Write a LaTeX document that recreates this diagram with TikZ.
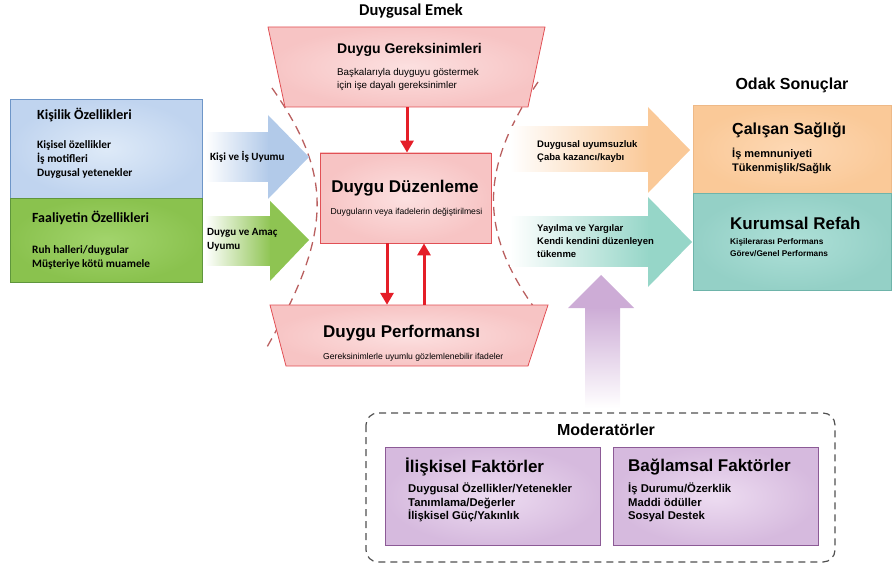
\documentclass[tikz,border=0pt]{standalone}
\usepackage{fontspec}
\setmainfont{Liberation Sans}
\newfontfamily\calibrifont{Carlito}
\usetikzlibrary{arrows.meta}
\definecolor{bluefill}{RGB}{192,212,239}
\definecolor{bluein}{RGB}{222,234,248}
\definecolor{blueborder}{RGB}{110,150,200}
\definecolor{greenfill}{RGB}{138,194,78}
\definecolor{greenin}{RGB}{162,212,108}
\definecolor{greenborder}{RGB}{95,150,60}
\definecolor{pinkfill}{RGB}{247,196,196}
\definecolor{pinkin}{RGB}{252,224,224}
\definecolor{pinkborder}{RGB}{225,80,85}
\definecolor{redarrow}{RGB}{228,30,40}
\definecolor{orangefill}{RGB}{250,201,152}
\definecolor{orangein}{RGB}{253,216,180}
\definecolor{orangeborder}{RGB}{238,185,135}
\definecolor{tealfill}{RGB}{148,208,198}
\definecolor{tealin}{RGB}{174,224,216}
\definecolor{tealborder}{RGB}{110,180,170}
\definecolor{purplefill}{RGB}{214,186,222}
\definecolor{purplein}{RGB}{237,220,241}
\definecolor{purpleborder}{RGB}{140,90,150}
\definecolor{purparrow}{RGB}{205,172,214}
\definecolor{bluearrow}{RGB}{178,202,233}
\definecolor{greenarrow}{RGB}{142,196,82}
\definecolor{orangearrow}{RGB}{250,201,152}
\definecolor{tealarrow}{RGB}{150,214,200}
\definecolor{dashred}{RGB}{185,95,95}
\definecolor{dashgray}{RGB}{80,80,80}
\begin{document}
\begin{tikzpicture}[x=1pt,y=-1pt,
  box/.style={inner sep=0pt, anchor=north west},
  ghost/.style={inner sep=0pt},
  redarr/.style={draw=redarrow, line width=3pt, -{Triangle[width=13pt,length=12pt]}},
  dashcurve/.style={draw=dashred, line width=1.3pt, dash pattern=on 9pt off 6pt},
  bigttl/.style={font=\bfseries\fontsize{17}{20}\selectfont, inner sep=0pt},
  midttl/.style={font=\bfseries\fontsize{14}{17}\selectfont, inner sep=0pt},
  caltl/.style={font=\calibrifont\bfseries\fontsize{14}{17}\selectfont, inner sep=0pt, anchor=west},
  calitem/.style={font=\calibrifont\bfseries\fontsize{11.3}{14}\selectfont, inner sep=0pt, anchor=west, align=left},
  smalltxt/.style={font=\fontsize{8.6}{10}\selectfont, inner sep=0pt},
  rlabel/.style={font=\bfseries\fontsize{9.5}{13}\selectfont, inner sep=0pt, anchor=west, align=left},
  item/.style={font=\bfseries\fontsize{11}{14}\selectfont, inner sep=0pt, anchor=west, align=left}
]
\useasboundingbox (0,0) rectangle (892,564);

% dashed curves
\draw[dashcurve] (272,88) .. controls (333,175) and (333,232) .. (267,347);
\draw[dashcurve] (538,82) .. controls (478,170) and (478,235) .. (542,318);

% left arrows
\shade[left color=white, right color=bluearrow] (205,133) rectangle (269,182);
\fill[bluearrow] (268,115) -- (309,157) -- (268,199) -- cycle;
\shade[left color=white, right color=greenarrow] (205,217) rectangle (271,266);
\fill[greenarrow] (270,201) -- (309,240) -- (270,281) -- cycle;

% right arrows
\shade[left color=white, right color=orangearrow] (510,127) rectangle (649,172);
\fill[orangearrow] (648,107) -- (690,150) -- (648,193) -- cycle;
\shade[left color=white, right color=tealarrow] (510,217) rectangle (649,267);
\fill[tealarrow] (648,197) -- (692,242) -- (648,287) -- cycle;

% purple arrow
\shade[top color=purparrow, bottom color=white] (585,307) rectangle (620,408);
\fill[purparrow] (568,308) -- (601,275) -- (634,308) -- cycle;

% left boxes
\node[box, draw=blueborder, inner color=bluein, outer color=bluefill, minimum width=192pt, minimum height=99pt] (kisilik) at (10,99) {};
\node[box, draw=greenborder, inner color=greenin, outer color=greenfill, minimum width=192pt, minimum height=84pt] (faaliyet) at (10,198) {};
\node[caltl] (kisilikt) at (37,115) {Kişilik Özellikleri};
\node[calitem] (kisilikl) at (37,159) {Kişisel özellikler\\İş motifleri\\Duygusal yetenekler};
\node[caltl] (faaliyett) at (32,218) {Faaliyetin Özellikleri};
\node[calitem] (faaliyetl) at (32,257) {Ruh halleri/duygular\\Müşteriye kötü muamele};
\node[calitem, font=\calibrifont\bfseries\fontsize{11}{14}\selectfont] (kisiis) at (210,157) {Kişi ve İş Uyumu};
\node[calitem, font=\calibrifont\bfseries\fontsize{11}{14}\selectfont] (duyguamac) at (207,240) {Duygu ve Amaç\\Uyumu};

% central pink shapes
\node[font=\calibrifont\bfseries\fontsize{16.5}{19}\selectfont, inner sep=0pt] (emek) at (411,11) {Duygusal Emek};
\shadedraw[inner color=pinkin, outer color=pinkfill, draw=pinkborder, line width=0.8pt] (268,27) -- (545,27) -- (528,107) -- (285,107) -- cycle;
\node[ghost, minimum width=243pt, minimum height=80pt] (gerek) at (407,67) {};
\node[midttl] (gerekt) at (409.5,50) {Duygu Gereksinimleri};
\node[font=\fontsize{9.8}{13}\selectfont, inner sep=0pt, anchor=west, align=left] (gerekl) at (337,79.5) {Başkalarıyla duyguyu göstermek\\için işe dayalı gereksinimler};

\node[draw=pinkborder, inner color=pinkin, outer color=pinkfill, line width=0.8pt, minimum width=171pt, minimum height=90pt, inner sep=0pt] (duzen) at (405.5,198) {};
\node[bigttl] (duzent) at (405,188) {Duygu Düzenleme};
\node[smalltxt] (duzenl) at (406.5,212) {Duyguların veya ifadelerin değiştirilmesi};

\shadedraw[inner color=pinkin, outer color=pinkfill, draw=pinkborder, line width=0.8pt] (270,305) -- (548,305) -- (528,366) -- (286,366) -- cycle;
\node[ghost, minimum width=242pt, minimum height=61pt] (perf) at (407,335.5) {};
\node[bigttl, anchor=west] (perft) at (323,333) {Duygu Performansı};
\node[smalltxt, anchor=west] (perfl) at (323,357) {Gereksinimlerle uyumlu gözlemlenebilir ifadeler};

% red arrows
\draw[redarr] (gerek.south) -- (gerek.south |- duzen.north);
\draw[redarr] ([xshift=-18.5pt]duzen.south) -- ([xshift=-18.5pt]duzen.south |- perf.north);
\draw[redarr] ([xshift=18.5pt]duzen.south |- perf.north) -- ([xshift=18.5pt]duzen.south);

% right labels
\node[rlabel] (uyumsuz) at (537,151.5) {Duygusal uyumsuzluk\\Çaba kazancı/kaybı};
\node[rlabel] (yayilma) at (537,241.5) {Yayılma ve Yargılar\\Kendi kendini düzenleyen\\tükenme};

% outcome boxes
\node[font=\bfseries\fontsize{16}{19}\selectfont, inner sep=0pt] (odak) at (792,85) {Odak Sonuçlar};
\node[box, draw=orangeborder, inner color=orangein, outer color=orangefill, minimum width=198pt, minimum height=88pt] (calisan) at (693,105) {};
\node[box, draw=tealborder, inner color=tealin, outer color=tealfill, minimum width=198pt, minimum height=97pt] (kurumsal) at (693,193) {};
\node[font=\bfseries\fontsize{16}{19}\selectfont, inner sep=0pt, anchor=west] (calisant) at (732,130) {Çalışan Sağlığı};
\node[item] (calisanl) at (732,160.5) {İş memnuniyeti\\Tükenmişlik/Sağlık};
\node[bigttl, anchor=west] (kurumsalt) at (730,223) {Kurumsal Refah};
\node[rlabel, font=\bfseries\fontsize{8.3}{11.5}\selectfont] (kurumsall) at (730,247.5) {Kişilerarası Performans\\Görev/Genel Performans};

% moderators
\draw[draw=dashgray, line width=1.2pt, dash pattern=on 7pt off 5pt, rounded corners=12pt] (366,413) rectangle (835,562);
\node[font=\bfseries\fontsize{16}{19}\selectfont, inner sep=0pt] (moder) at (606,430) {Moderatörler};
\node[box, draw=purpleborder, inner color=purplein, outer color=purplefill, minimum width=215pt, minimum height=98pt] (iliskisel) at (385,447) {};
\node[box, draw=purpleborder, inner color=purplein, outer color=purplefill, minimum width=205pt, minimum height=98pt] (baglamsal) at (613,447) {};
\node[font=\bfseries\fontsize{17}{20}\selectfont, inner sep=0pt, anchor=west] (iliskiselt) at (405,467) {İlişkisel Faktörler};
\node[item, font=\bfseries\fontsize{11.3}{13.5}\selectfont] (iliskisell) at (408,502.5) {Duygusal Özellikler/Yetenekler\\Tanımlama/Değerler\\İlişkisel Güç/Yakınlık};
\node[font=\bfseries\fontsize{17}{20}\selectfont, inner sep=0pt, anchor=west] (baglamsalt) at (628,467) {Bağlamsal Faktörler};
\node[item, font=\bfseries\fontsize{11.3}{13.5}\selectfont] (baglamsall) at (628,502.5) {İş Durumu/Özerklik\\Maddi ödüller\\Sosyal Destek};
\end{tikzpicture}
\end{document}
